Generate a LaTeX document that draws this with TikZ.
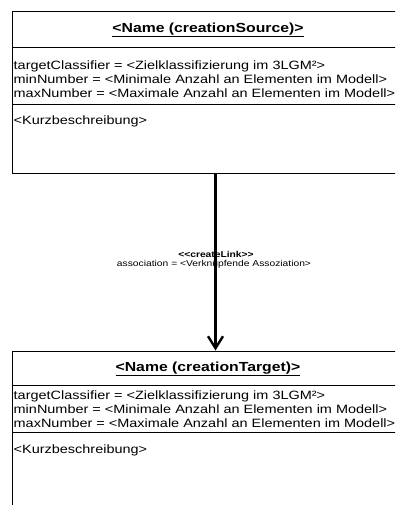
\documentclass[tikz,border=0pt]{standalone}
\usepackage{fontspec}
\setmainfont{Liberation Sans}
\newfontfamily\widesans[FakeStretch=1.2]{Liberation Sans}
\usetikzlibrary{arrows.meta}

\tikzset{
  classbox/.style={draw,thick,rectangle,anchor=north west,inner sep=0pt,minimum width=400bp},
  classtitle/.style={font=\widesans\bfseries\fontsize{13.2}{15}\selectfont},
  attrtext/.style={anchor=north west,align=left,inner sep=0pt,font=\widesans\fontsize{12.1}{14.2}\selectfont},
  linklabel/.style={font=\widesans\fontsize{8.6}{10}\selectfont,inner sep=0pt},
  link/.style={line width=3bp,-{Straight Barb[length=12bp,width=15bp,line width=2.4bp]}}
}

\begin{document}
\begin{tikzpicture}[x=1bp,y=-1bp]
  \useasboundingbox (0,0) rectangle (395,505);
  \clip (0,0) rectangle (395,505);

  % creation source
  \node[classbox,minimum height=161.5bp] (src) at (11.5,11) {};
  \draw[thick] (11.5,47.5) -- (400,47.5);
  \draw[thick] (11.5,104.5) -- (400,104.5);
  \node[classtitle] (srctitle) at (208,30) {\underline{<Name (creationSource)>}};
  \node[attrtext] (srcattr) at (13.5,60.5) {targetClassifier = <Zielklassifizierung im 3LGM²>\\
    minNumber = <Minimale Anzahl an Elementen im Modell>\\
    maxNumber = <Maximale Anzahl an Elementen im Modell>};
  \node[attrtext] (srcdesc) at (13.5,116) {<Kurzbeschreibung>};

  % creation target
  \node[classbox,minimum height=170bp] (tgt) at (12,350.5) {};
  \draw[thick] (12,385.5) -- (400,385.5);
  \draw[thick] (12,432.5) -- (400,432.5);
  \node[classtitle] (tgttitle) at (208,369) {\underline{<Name (creationTarget)>}};
  \node[attrtext] (tgtattr) at (13.5,390.5) {targetClassifier = <Zielklassifizierung im 3LGM²>\\
    minNumber = <Minimale Anzahl an Elementen im Modell>\\
    maxNumber = <Maximale Anzahl an Elementen im Modell>};
  \node[attrtext] (tgtdesc) at (13.5,445) {<Kurzbeschreibung>};

  % link
  \draw[link] (src.south west) ++(204,0) coordinate (lnk) -- (lnk |- tgt.north);
  \node[linklabel] (stereo) at (216,254.5) {\bfseries \textless\textless createLink\textgreater\textgreater};
  \node[linklabel] (assoc) at (214,264) {association = <Verknüpfende Assoziation>};
\end{tikzpicture}
\end{document}
